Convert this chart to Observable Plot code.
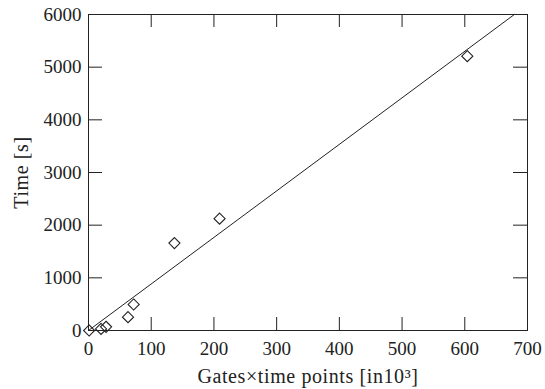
<!DOCTYPE html>
<html>
<head>
<meta charset="utf-8">
<script src="https://cdn.jsdelivr.net/npm/d3@7"></script>
<script src="https://cdn.jsdelivr.net/npm/@observablehq/plot@0.6"></script>
<style>
  html, body { margin: 0; padding: 0; background: #fff; }
</style>
</head>
<body>
<div id="chart"></div>
<script>
// Measured runs: circuit size (gates × time points, thousands) vs. run time (s)
const gates = [1, 20, 28, 63, 72, 137, 209, 604];
const times = [0, 30, 70, 253, 494, 1660, 2123, 5209];

// Linear fit through the origin
const fitX = [0, 679];
const fitY = [0, 6000];

const xTicks = [0, 100, 200, 300, 400, 500, 600, 700];
const yTicks = [0, 1000, 2000, 3000, 4000, 5000, 6000];

const points = gates.map((g, i) => ({g, t: times[i]}));
const fit = fitX.map((x, i) => ({x, y: fitY[i]}));

const W = 545, H = 389;
const mL = 88, mR = 18, mT = 14, mB = 59;
const pw = W - mL - mR, ph = H - mT - mB;
const ink = "#222";
const font = "'Liberation Serif', 'Times New Roman', serif";

const chart = Plot.plot({
  width: W,
  height: H,
  marginLeft: mL,
  marginRight: mR,
  marginTop: mT,
  marginBottom: mB,
  style: {fontFamily: font, fontSize: "19px", color: ink, background: "#fff"},
  x: {domain: [0, 700]},
  y: {domain: [0, 6000]},
  marks: [
    Plot.frame({stroke: ink, strokeWidth: 1}),
    // inward ticks on all four sides
    Plot.tickX(xTicks, {x: d => d, insetTop: ph - 13, stroke: ink}),
    Plot.tickX(xTicks, {x: d => d, insetBottom: ph - 13, stroke: ink}),
    Plot.tickY(yTicks, {y: d => d, insetRight: pw - 14, stroke: ink}),
    Plot.tickY(yTicks, {y: d => d, insetLeft: pw - 14, stroke: ink}),
    Plot.axisX({ticks: xTicks, tickSize: 0, tickPadding: 11, label: null, fontSize: 19, tickFormat: d => String(d)}),
    Plot.axisY({ticks: yTicks, tickSize: 0, tickPadding: 7, label: null, fontSize: 19, tickFormat: d => String(d)}),
    Plot.line(fit, {x: "x", y: "y", stroke: ink, strokeWidth: 1}),
    Plot.dot(points, {x: "g", y: "t", symbol: "diamond2", r: 5, stroke: ink, fill: "none", strokeWidth: 1.1}),
    Plot.text(["Gates×time points [in10³]"], {frameAnchor: "bottom", textAnchor: "middle", dy: 52, fill: ink, fontSize: 20, className: "xtitle"}),
    Plot.text(["Time [s]"], {frameAnchor: "left", textAnchor: "middle", dx: -67, rotate: -90, fill: ink, fontSize: 20, className: "ytitle"})
  ]
});

// slightly wider tracking on the axis titles
d3.select(chart).selectAll(".xtitle text, .ytitle text").attr("letter-spacing", "0.6px");

document.getElementById("chart").appendChild(chart);
</script>
</body>
</html>
